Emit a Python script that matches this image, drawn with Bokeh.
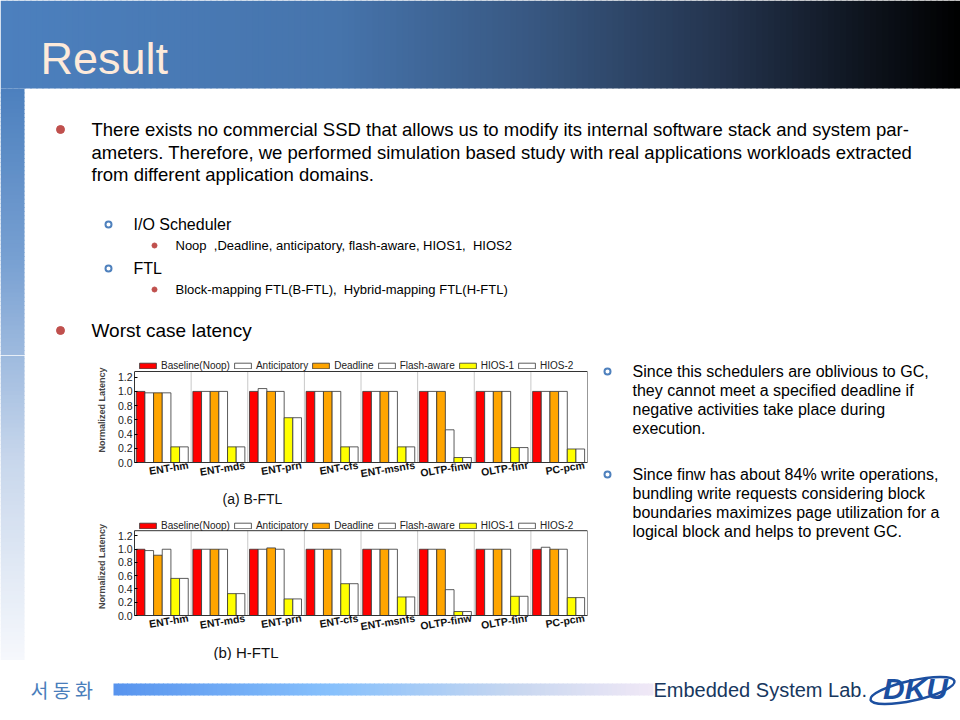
from bokeh.plotting import figure
from bokeh.models import (Range1d, ColumnDataSource, Legend, LegendItem, Span, Title,
                          FixedTicker, NumeralTickFormatter)
from bokeh.layouts import row, column
from bokeh.core.properties import value
from bokeh.embed import file_html
from bokeh.resources import INLINE

# ---------------- data ----------------
categories = ["ENT-hm", "ENT-mds", "ENT-prn", "ENT-cfs", "ENT-msnfs", "OLTP-finw", "OLTP-finr", "PC-pcm"]
series_names = ["Baseline(Noop)", "Anticipatory", "Deadline", "Flash-aware", "HIOS-1", "HIOS-2"]
y_ticks = [0.0, 0.2, 0.4, 0.6, 0.8, 1.0, 1.2]
y_axis_top = 1.28

bftl_baseline = [1.00, 1.00, 1.00, 1.00, 1.00, 1.00, 1.00, 1.00]
bftl_anticipatory = [0.98, 1.00, 1.04, 1.00, 1.00, 1.00, 1.00, 1.00]
bftl_deadline = [0.98, 1.00, 1.00, 1.00, 1.00, 1.00, 1.00, 1.00]
bftl_flash_aware = [0.98, 1.00, 1.00, 1.00, 1.00, 0.46, 1.00, 1.00]
bftl_hios1 = [0.22, 0.22, 0.63, 0.22, 0.22, 0.07, 0.21, 0.19]
bftl_hios2 = [0.22, 0.22, 0.63, 0.22, 0.22, 0.07, 0.21, 0.19]

hftl_baseline = [1.00, 1.00, 1.00, 1.00, 1.00, 1.00, 1.00, 1.00]
hftl_anticipatory = [0.98, 1.00, 1.00, 1.00, 1.00, 1.00, 1.00, 1.03]
hftl_deadline = [0.91, 1.00, 1.02, 1.00, 1.00, 1.00, 1.00, 1.00]
hftl_flash_aware = [1.00, 1.00, 1.00, 1.00, 1.00, 0.39, 1.00, 1.00]
hftl_hios1 = [0.56, 0.33, 0.25, 0.48, 0.28, 0.06, 0.29, 0.27]
hftl_hios2 = [0.56, 0.33, 0.25, 0.48, 0.28, 0.06, 0.29, 0.27]

bar_colors = ["#FF0000", "#FFFFFF", "#FFA500", "#FFFFFF", "#FFFF00", "#FFFFFF"]

FONT = "Liberation Sans"


def lerp_color(stops, t):
    for (t0, c0), (t1, c1) in zip(stops[:-1], stops[1:]):
        if t0 <= t <= t1:
            u = 0 if t1 == t0 else (t - t0) / (t1 - t0)
            c = [int(round(a + (b - a) * u)) for a, b in zip(c0, c1)]
            return "#%02x%02x%02x" % tuple(c)
    c = stops[-1][1]
    return "#%02x%02x%02x" % tuple(c)


def deco(x0, x1, y0, y1):
    f = figure(width=int(x1 - x0), height=int(y1 - y0), x_range=Range1d(x0, x1),
               y_range=Range1d(y1, y0), output_backend="svg", toolbar_location=None,
               min_border=0, x_axis_type=None, y_axis_type=None, outline_line_color=None,
               background_fill_color="white", border_fill_color="white")
    f.xgrid.visible = False
    f.ygrid.visible = False
    return f


def hgrad(f, x0, x1, y0, y1, stops, n):
    w = (x1 - x0) / n
    lefts = [x0 + i * w for i in range(n)]
    rights = [l + w + 1.0 for l in lefts]
    cols = [lerp_color(stops, (i + 0.5) / n) for i in range(n)]
    f.quad(left=lefts, right=rights, top=[y0] * n, bottom=[y1] * n, fill_color=cols, line_color=None)


def vgrad(f, x0, x1, y0, y1, stops, n, ystart, yend):
    h = (yend - ystart) / n
    tops = [ystart + i * h for i in range(n)]
    cols = [lerp_color(stops, (i + 0.5) / n) for i in range(n)]
    sel = [(t, c) for t, c in zip(tops, cols) if t + h > y0 and t < y1]
    f.quad(left=[x0] * len(sel), right=[x1] * len(sel), top=[max(t, y0) for t, _ in sel],
           bottom=[min(t + h + 1.0, y1) for t, _ in sel], fill_color=[c for _, c in sel], line_color=None)


header_stops = [(0.0, (76, 128, 190)), (0.35, (70, 116, 172)), (0.55, (56, 88, 130)),
                (0.75, (36, 52, 78)), (0.9, (14, 20, 30)), (1.0, (0, 0, 0))]
strip_stops = [(0.0, (76, 128, 190)), (0.3, (120, 160, 210)), (0.65, (200, 215, 236)), (1.0, (246, 248, 252))]


def txt(f, x, y, s, size, color="#000000", style="normal", font=FONT, align="left"):
    f.text(x=[x], y=[y], text=[s], text_font=value(font), text_font_size=size, text_color=color,
           text_baseline="middle", text_align=align, text_font_style=style)


# ---------------- top figure ----------------
top = deco(0, 960, 0, 355)
hgrad(top, 0, 960, 0, 88, header_stops, 160)
vgrad(top, 0, 24, 88, 355, strip_stops, 140, 88, 660)
txt(top, 40, 58, "Result", "45px", color="#FDEADA")

top.scatter(x=[60, 60], y=[129, 330], size=8, color="#C0504D")
body_lines = ["There exists no commercial SSD that allows us to modify its internal software stack and system par-",
              "ameters. Therefore, we performed simulation based study with real applications workloads extracted",
              "from different application domains."]
for i, s in enumerate(body_lines):
    txt(top, 91, 129 + 22.5 * i, s, "18.5px")
top.scatter(x=[108, 108], y=[224, 268], size=6, fill_color=None, line_color="#4F81BD", line_width=2)
txt(top, 133, 224, "I/O Scheduler", "16px")
txt(top, 133, 268, "FTL", "16px")
top.scatter(x=[154, 154], y=[245, 289], size=5, color="#C0504D")
txt(top, 175, 245, "Noop\u00a0\u00a0,Deadline, anticipatory, flash-aware, HIOS1,\u00a0\u00a0HIOS2", "13px")
txt(top, 175, 289, "Block-mapping FTL(B-FTL),\u00a0\u00a0Hybrid-mapping FTL(H-FTL)", "13px")
txt(top, 91, 330, "Worst case latency", "19px")

# ---------------- left filler ----------------
left = deco(0, 92, 355, 660)
vgrad(left, 0, 24, 355, 660, strip_stops, 140, 88, 660)

# ---------------- right text ----------------
right = deco(590, 960, 355, 660)
right.scatter(x=[607, 607], y=[371, 474], size=6, fill_color=None, line_color="#4F81BD", line_width=2)
r1 = ["Since this schedulers are oblivious to GC,", "they cannot meet a specified deadline if",
      "negative activities take place during", "execution."]
r2 = ["Since finw has about 84% write operations,", "bundling write requests considering block",
      "boundaries maximizes page utilization for a", "logical block and helps to prevent GC."]
for i, s in enumerate(r1):
    txt(right, 632, 371 + 19 * i, s, "16px")
for i, s in enumerate(r2):
    txt(right, 632, 474 + 19 * i, s, "16px")


# ---------------- charts ----------------
def make_chart(vals, caption, cap_size, cap_offset, height, b_bottom, frame_h, plot_h):
    n = len(categories)
    idx = list(range(n))
    # group i occupies [i - 0.95, i + 0.05]; its slanted label ends at tick i
    y_full = y_axis_top * frame_h / plot_h
    p = figure(x_range=Range1d(-0.95, n - 0.95), y_range=Range1d(0, y_full),
               width=498, height=height, sizing_mode="fixed",
               output_backend="svg", toolbar_location=None, min_border_left=42, min_border_right=3,
               min_border_top=2, min_border_bottom=b_bottom, outline_line_color=None,
               background_fill_color="white", border_fill_color="white")
    p.xgrid.visible = False
    p.ygrid.visible = False
    # group separators and plot-box right edge
    sep = ColumnDataSource(dict(x=[i + 0.05 for i in idx], y0=[0.0] * n, y1=[y_axis_top] * n,
                                col=["#C8C8C8"] * (n - 1) + ["#333333"]))
    p.segment(x0="x", x1="x", y0="y0", y1="y1", line_color="col", line_width=1, source=sep)
    p.add_layout(Span(location=y_axis_top, dimension="width", line_color="#333333", line_width=1))
    bw = 0.153
    items = []
    for j, name in enumerate(series_names):
        off = -0.46 + (j - 2.5) * bw
        src = ColumnDataSource(dict(x=[i + off for i in idx], top=vals[j], cat=categories))
        r = p.vbar(x="x", top="top", width=bw, source=src,
                   fill_color=bar_colors[j], line_color="#333333", line_width=0.8)
        items.append(LegendItem(label=name, renderers=[r]))
    leg = Legend(items=items, orientation="horizontal", location="top_left", padding=0, margin=3,
                 spacing=2, glyph_width=21, glyph_height=7, label_standoff=3, label_height=9,
                 label_text_font=FONT, label_text_font_size="10px", label_text_color="#222222",
                 border_line_color=None, background_fill_alpha=0)
    p.add_layout(leg, "center")
    # y axis
    p.yaxis.bounds = (0, y_axis_top)
    p.yaxis.ticker = FixedTicker(ticks=y_ticks)
    p.yaxis.formatter = NumeralTickFormatter(format="0.0")
    p.yaxis.major_label_text_font = FONT
    p.yaxis.major_label_text_font_size = "10.5px"
    p.yaxis.major_label_text_color = "#222222"
    p.yaxis.major_tick_out = 0
    p.yaxis.major_tick_in = 3
    p.yaxis.minor_tick_line_color = None
    p.yaxis.major_label_standoff = 2
    p.yaxis.axis_label = "Normalized Latency"
    p.yaxis.axis_label_text_font = FONT
    p.yaxis.axis_label_text_font_size = "9px"
    p.yaxis.axis_label_text_font_style = "bold"
    p.yaxis.axis_label_standoff = 8
    p.yaxis.axis_line_color = "#333333"
    # x axis: category labels
    p.xaxis.ticker = FixedTicker(ticks=idx)
    p.xaxis.major_label_overrides = {i: c for i, c in enumerate(categories)}
    p.xaxis.major_tick_line_color = None
    p.xaxis.minor_tick_line_color = None
    p.xaxis.major_tick_out = 0
    p.xaxis.major_tick_in = 0
    p.xaxis.axis_line_color = "#333333"
    p.xaxis.major_label_orientation = 0.16
    p.xaxis.major_label_text_font = FONT
    p.xaxis.major_label_text_font_size = "10.5px"
    p.xaxis.major_label_text_font_style = "bold"
    p.xaxis.major_label_text_color = "#111111"
    p.xaxis.major_label_standoff = 2
    t = Title(text=caption, align="left", offset=cap_offset, standoff=0, text_font=FONT,
              text_font_size=cap_size, text_font_style="normal", text_color="#111111")
    p.add_layout(t, "below")
    return p


chart_a = make_chart([bftl_baseline, bftl_anticipatory, bftl_deadline, bftl_flash_aware, bftl_hios1, bftl_hios2],
                     "(a) B-FTL", "14px", 88, 160, 53, 105, 91)
chart_b = make_chart([hftl_baseline, hftl_anticipatory, hftl_deadline, hftl_flash_aware, hftl_hios1, hftl_hios2],
                     "(b) H-FTL", "15px", 79, 145, 39, 104, 90)

# ---------------- footer ----------------
foot = deco(0, 960, 660, 720)
txt(foot, 30, 689, "서 동 화", "19.5px", color="#4A7EBB", font="Noto Sans CJK KR")
foot_stops = [(0.0, (88, 148, 238)), (0.4, (134, 192, 252)), (0.75, (200, 215, 240)), (1.0, (240, 232, 246))]
hgrad(foot, 113, 652, 683, 695, foot_stops, 120)
txt(foot, 653, 689, "Embedded System Lab.", "20px", color="#17375E")
foot.ellipse(x=[912], y=[690], width=86, height=20, angle=0.22, fill_color=None, line_color="#1C4FA0", line_width=2.5)
txt(foot, 915, 688, "DKU", "30px", color="#1C4FA0", style="bold italic", align="center")

layout = column(top, row(left, column(chart_a, chart_b), right), foot)

open("out.html", "w").write(file_html(layout, INLINE))
